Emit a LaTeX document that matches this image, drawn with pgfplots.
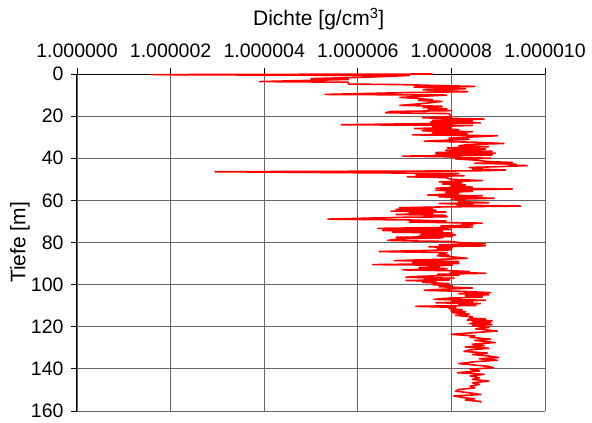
\documentclass[border=0pt]{standalone}
\usepackage{fontspec}
\setmainfont{Liberation Sans}
\usepackage{pgfplots}
\usepackage{pgfplotstable}
\pgfplotsset{compat=1.18}
% x = (density - 1) * 1e6 ; y = depth in m
\pgfplotstableread{
x y
7.6 0.0
1.6 0.3
4.0 0.5
7.1 0.7
6.2 1.5
5.0 2.2
5.8 2.6
3.9 3.6
5.8 3.9
5.8 4.8
6.85 5.0
8.5 5.9
7.2 6.2
8.3 7.0
7.4 7.5
8.35 8.4
7.1 8.8
5.3 9.7
7.9 10.0
6.9 11.1
7.2 11.5
7.6 12.2
7.3 12.6
7.8 13.0
7.4 14.0
6.9 14.9
7.8 15.3
7.4 15.9
7.9 16.5
7.5 17.0
8.0 17.4
6.7 17.8
6.60 18.4
7.95 18.8
8.0 20.3
7.38 20.8
8.70 21.4
7.6 22.0
8.45 22.4
7.56 22.8
8.62 23.2
5.65 24.1
8.45 24.4
7.6 25.0
7.99 25.4
7.21 25.9
8.16 26.4
7.38 27.0
8.45 27.4
7.6 28.0
8.34 28.4
7.17 28.9
8.98 29.3
8.45 29.9
7.95 30.5
8.38 31.0
7.42 31.9
8.52 32.4
9.12 33.0
8.34 33.5
8.16 34.1
8.80 34.5
7.91 35.1
8.73 35.6
7.88 36.2
8.87 36.7
7.67 37.3
8.94 37.6
7.67 38.0
8.87 38.5
6.96 39.0
7.95 39.3
8.06 39.6
8.84 40.0
8.09 40.3
8.45 40.8
8.80 41.6
9.30 42.0
8.5 42.4
9.37 42.8
9.23 43.2
9.62 43.5
9.0 44.0
8.38 44.4
8.66 44.8
8.45 45.1
9.16 45.6
8.5 46.0
2.95 46.4
8.16 47.2
7.24 47.8
8.27 48.3
7.06 48.8
7.88 49.2
8.0 50.0
8.66 50.6
7.74 51.2
8.23 51.7
7.81 52.2
8.30 52.7
7.99 53.2
8.45 53.7
7.67 54.2
9.30 54.6
7.67 55.2
8.45 55.7
7.88 56.2
8.16 56.7
7.49 57.5
8.66 57.8
7.74 58.3
8.91 59.0
7.99 59.5
8.30 60.0
8.16 60.6
8.80 61.1
7.74 61.5
8.45 61.9
8.13 62.3
9.48 62.7
7.81 63.1
6.89 63.5
7.60 64.0
6.82 64.3
7.67 64.7
6.71 65.1
7.88 65.5
7.10 65.9
7.60 66.3
6.82 66.7
7.88 67.1
7.52 67.5
7.91 67.8
7.03 68.0
5.36 68.9
7.10 69.3
7.88 69.8
7.10 70.3
8.66 70.8
8.23 71.2
8.45 71.7
7.77 72.2
8.45 72.7
6.43 73.3
7.99 73.8
6.53 74.3
7.81 74.7
6.74 75.1
8.02 75.5
7.35 75.9
8.09 76.4
7.31 76.8
8.02 77.2
6.82 77.5
7.81 77.8
6.89 78.3
6.64 79.0
7.24 79.3
7.99 79.5
8.16 80.0
8.73 80.6
7.74 81.1
8.73 81.6
7.52 82.0
8.02 82.5
7.70 83.0
8.0 83.5
6.46 84.3
7.91 84.8
7.74 85.6
7.95 86.0
7.70 86.3
8.0 86.8
8.34 87.5
7.74 88.0
6.78 88.6
8.16 89.0
7.17 89.5
8.16 90.0
6.32 90.5
8.02 90.8
7.52 91.1
7.74 91.5
7.31 91.9
7.91 92.4
6.96 93.0
8.0 93.4
8.38 93.8
7.99 94.2
8.73 94.6
7.70 95.1
8.16 95.6
7.38 96.0
7.03 96.5
8.06 97.0
7.42 97.5
7.95 97.8
7.03 98.0
7.67 98.4
7.38 98.9
7.95 99.5
7.6 100.0
8.02 100.6
7.74 101.0
8.45 101.6
7.81 102.2
7.42 102.7
8.23 103.2
8.84 103.8
8.16 104.3
8.80 104.8
8.3 105.3
8.66 105.9
7.95 106.4
7.63 107.0
8.73 107.4
8.0 107.9
8.45 108.2
7.67 108.6
8.62 109.0
8.16 109.5
8.52 109.9
7.24 110.3
8.09 110.8
7.95 111.4
8.23 111.9
7.99 112.5
8.30 112.9
8.02 113.3
8.38 114.0
8.09 114.6
8.45 115.2
8.38 115.9
8.73 116.3
8.34 116.8
8.87 117.2
8.45 117.5
8.84 118.0
8.38 118.5
8.87 119.0
8.45 119.5
8.80 120.3
8.52 121.0
8.98 122.0
8.0 123.6
8.5 124.4
8.4 125.0
8.84 125.9
8.5 126.5
8.94 127.5
8.45 128.3
8.7 129.0
8.3 129.6
8.8 130.2
8.4 131.0
8.27 131.7
8.77 132.5
8.45 133.2
8.8 133.9
9.01 134.6
8.6 135.2
8.98 135.9
8.5 136.6
8.16 137.5
8.8 138.8
8.90 139.4
8.4 140.2
8.6 141.0
8.13 141.8
8.7 142.6
8.4 143.4
8.6 144.2
8.45 145.0
8.8 145.8
8.45 146.6
8.6 147.4
8.4 148.2
8.5 149.0
8.16 149.8
8.09 150.6
8.4 151.4
8.63 152.2
8.05 152.8
8.2 153.5
8.5 154.2
8.3 154.8
8.63 155.5
8.62 156.0
}\density
\begin{document}
\begin{tikzpicture}
\useasboundingbox (-77pt,-12pt) rectangle (515pt,411pt);
\begin{axis}[
  at={(0pt,0pt)}, anchor=south west,
  scale only axis, width=468pt, height=337pt,
  xmin=0, xmax=10, ymin=0, ymax=160,
  y dir=reverse,
  xtick={0,2,...,10},
  xticklabels={1.000000,1.000002,1.000004,1.000006,1.000008,1.000010},
  ytick={0,20,...,160},
  xtick pos=right, xticklabel pos=right,
  ytick pos=left, yticklabel pos=left,
  tick align=outside,
  major tick length=6pt,
  grid=major,
  grid style={black!60, line width=0.9pt},
  axis line style={draw=none},
  tick style={black, line width=0.9pt},
  ticklabel style={font=\fontsize{19.5}{22}\selectfont},
  xticklabel style={anchor=base, yshift=10pt},
  yticklabel style={xshift=-4pt},
  /pgf/number format/assume math mode=true,
  clip=false,
]
\draw[black, line width=1pt] (axis cs:0,160) -- (axis cs:0,0) -- (axis cs:10,0);
\addplot[red, line width=1.6pt, line join=round] table[x=x, y=y] {\density};
\end{axis}
\node[anchor=base, font=\fontsize{21}{24}\selectfont] at (241.7pt,385pt) {Dichte [g/cm\textsuperscript{3}]};
\node[rotate=90, anchor=center, font=\fontsize{21}{24}\selectfont] at (-57pt,168.5pt) {Tiefe [m]};
\end{tikzpicture}
\end{document}
